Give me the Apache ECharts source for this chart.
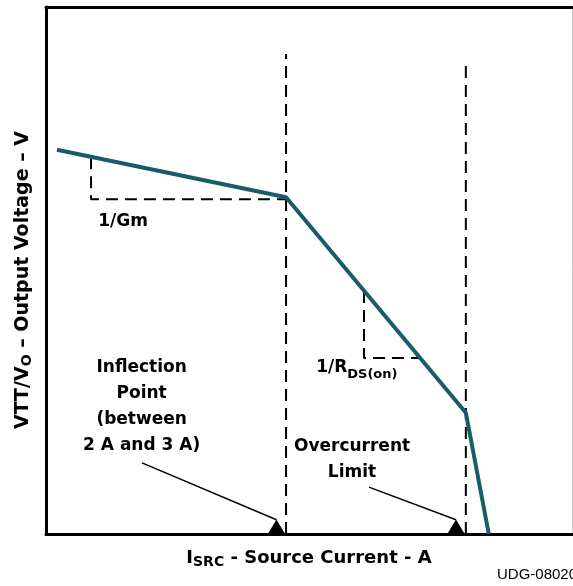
<!DOCTYPE html>
<html>
<head>
<meta charset="utf-8">
<script src="https://cdn.jsdelivr.net/npm/echarts@6/dist/echarts.min.js"></script>
<style>
  html, body { margin: 0; padding: 0; background: #fff; }
  #chart { width: 573px; height: 586px; }
</style>
</head>
<body>
<div id="chart"></div>
<script>
// output voltage (normalised) vs source current (A)
const currentA = [0.115, 2.51, 4.39, 4.63]
const voltage = [0.729, 0.639, 0.230, 0]

// vertical guides: inflection point and overcurrent limit
const guideX = [2.51, 4.39]
const guideTop = [0.911, 0.899]

// slope hints
const gmX = [0.471, 0.471, 2.51]
const gmY = [0.715, 0.635, 0.635]
const rdsX = [3.325, 3.325, 3.90]
const rdsY = [0.461, 0.334, 0.334]

// arrows pointing at the x axis
const markerX = [2.41, 4.287]
const arrowFromX = [1.004, 3.377]
const arrowFromY = [0.135, 0.089]
const arrowTipY = 0.027

// annotations
const noteText = ['1/Gm', '1/R{s|DS(on)}', 'Inflection\nPoint\n(between\n2 A and 3 A)', 'Overcurrent\nLimit']
const noteX = [0.805, 3.25, 1.0, 3.2]
const noteY = [0.592, 0.315, 0.241, 0.141]

const curveColor = '#1a5b6a'
const fontFamily = '"DejaVu Sans", sans-serif'

const chart = echarts.init(document.getElementById('chart'))

const dashed = (xs, ys) => ({
  type: 'line',
  data: xs.map((x, i) => [x, ys[i]]),
  symbol: 'none',
  silent: true,
  lineStyle: { color: '#000', width: 2, type: [12, 7] },
  z: 3
})

const subRich = size => ({
  s: { fontSize: size, fontWeight: 'bold', fontFamily, lineHeight: 14, verticalAlign: 'bottom', color: '#000' }
})

// plain frame axis, no ticks or labels
const frame = (extra) => Object.assign({
  type: 'value',
  axisLine: { onZero: false, lineStyle: { color: '#000', width: 3 } },
  axisTick: { show: false },
  axisLabel: { show: false },
  splitLine: { show: false }
}, extra)

const series = [
  {
    type: 'line',
    data: currentA.map((x, i) => [x, voltage[i]]),
    symbol: 'none',
    lineStyle: { color: curveColor, width: 4 },
    z: 5
  },
  ...guideX.map((x, i) => dashed([x, x], [0, guideTop[i]])),
  dashed(gmX, gmY),
  dashed(rdsX, rdsY),
  ...markerX.map((x, i) => ({
    type: 'line',
    data: [[arrowFromX[i], arrowFromY[i]], [x, arrowTipY]],
    symbol: 'none',
    lineStyle: { color: '#000', width: 1.5 },
    z: 4
  })),
  {
    type: 'scatter',
    data: markerX.map(x => [x, 0]),
    symbol: 'triangle',
    symbolSize: [18, 15],
    symbolOffset: [0, -7],
    itemStyle: { color: '#000', opacity: 1 },
    z: 6
  },
  {
    type: 'scatter',
    data: noteX.map((x, i) => [x, noteY[i]]),
    symbolSize: 1,
    itemStyle: { color: 'rgba(0,0,0,0)', opacity: 1 },
    label: {
      show: true,
      position: 'inside',
      formatter: p => noteText[p.dataIndex],
      color: '#000',
      fontSize: 17,
      fontWeight: 'bold',
      fontFamily,
      lineHeight: 26,
      align: 'center',
      rich: subRich(13)
    },
    z: 7
  }
]

const option = {
  animation: false,
  grid: { left: 46, right: 1, top: 7, bottom: 52 },
  xAxis: [
    frame({
      min: 0,
      max: 5.5,
      name: 'I{s|SRC} - Source Current - A',
      nameLocation: 'middle',
      nameGap: 13,
      nameTextStyle: {
        color: '#000', fontSize: 18, fontWeight: 'bold', fontFamily, lineHeight: 22,
        verticalAlign: 'top', rich: subRich(14)
      }
    }),
    frame({ position: 'top', min: 0, max: 5.5 })
  ],
  yAxis: [
    frame({
      min: 0,
      max: 1,
      name: 'VTT/V{s|O} – Output Voltage – V',
      nameLocation: 'middle',
      nameRotate: 90,
      nameGap: 12,
      nameTextStyle: {
        color: '#000', fontSize: 19, fontWeight: 'bold', fontFamily, lineHeight: 22,
        padding: [0, 19, 0, 0],
        rich: subRich(14)
      }
    }),
    frame({
      position: 'right',
      min: 0,
      max: 1,
      axisLine: { onZero: false, lineStyle: { color: '#ccc', width: 1 } }
    })
  ],
  graphic: [
    {
      type: 'text',
      left: 497,
      top: 567,
      style: { text: 'UDG-08020', fill: '#000', font: '15px "Liberation Sans", sans-serif' }
    }
  ],
  series
}

chart.setOption(option)
</script>
</body>
</html>
